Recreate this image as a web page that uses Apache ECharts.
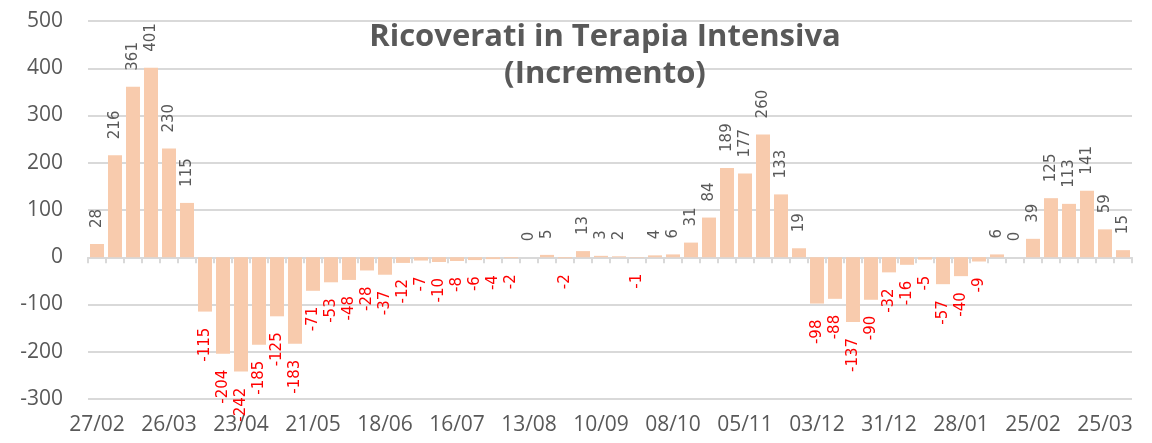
<!DOCTYPE html>
<html>
<head>
<meta charset="utf-8">
<script src="https://cdn.jsdelivr.net/npm/echarts@6/dist/echarts.min.js"></script>
<style>
  html, body { margin: 0; padding: 0; background: #fff; }
  #main { width: 1152px; height: 443px; }
</style>
</head>
<body>
<div id="main"></div>
<script>
// settimane (giovedì)
var weeks = ['27/02', '05/03', '12/03', '19/03', '26/03', '02/04', '09/04', '16/04', '23/04', '30/04',
  '07/05', '14/05', '21/05', '28/05', '04/06', '11/06', '18/06', '25/06', '02/07', '09/07',
  '16/07', '23/07', '30/07', '06/08', '13/08', '20/08', '27/08', '03/09', '10/09', '17/09',
  '24/09', '01/10', '08/10', '15/10', '22/10', '29/10', '05/11', '12/11', '19/11', '26/11',
  '03/12', '10/12', '17/12', '24/12', '31/12', '07/01', '14/01', '21/01', '28/01', '04/02',
  '11/02', '18/02', '25/02', '04/03', '11/03', '18/03', '25/03', '01/04'];

// incremento ricoverati in terapia intensiva
var incremento = [28, 216, 361, 401, 230, 115, -115, -204, -242, -185,
  -125, -183, -71, -53, -48, -28, -37, -12, -7, -10,
  -8, -6, -4, -2, 0, 5, -2, 13, 3, 2,
  -1, 4, 6, 31, 84, 189, 177, 260, 133, 19,
  -98, -88, -137, -90, -32, -16, -5, -57, -40, -9,
  6, 0, 39, 125, 113, 141, 59, 15];

var yMin = -300;
var yMax = 500;
var yStep = 100;

var chart = echarts.init(document.getElementById('main'));

var labelUp = {
  show: true,
  position: 'top',
  distance: 16,
  rotate: 90,
  align: 'left',
  verticalAlign: 'middle',
  color: '#595959',
  fontFamily: 'DejaVu Sans',
  fontSize: 15
};
var labelDown = {
  show: true,
  position: 'bottom',
  distance: 16,
  rotate: 90,
  align: 'right',
  verticalAlign: 'middle',
  color: '#ff0000',
  fontFamily: 'DejaVu Sans',
  fontSize: 15
};

var barData = incremento.map(function (v) {
  return { value: v, label: v < 0 ? labelDown : labelUp };
});

var option = {
  animation: false,
  title: {
    text: 'Ricoverati in Terapia Intensiva\n(Incremento)',
    left: 600,
    top: 14,
    textAlign: 'center',
    textStyle: {
      fontFamily: 'Open Sans',
      fontWeight: 'bold',
      fontSize: 31,
      lineHeight: 37,
      color: '#595959'
    }
  },
  grid: {
    left: 88,
    right: 20,
    top: 21,
    bottom: 44
  },
  xAxis: [
    {
      type: 'category',
      data: weeks,
      position: 'bottom',
      axisLine: { show: false, onZero: false },
      axisTick: { show: false },
      axisLabel: {
        interval: 3,
        margin: 16,
        color: '#595959',
        fontFamily: 'Open Sans',
        fontSize: 21
      }
    },
    {
      type: 'category',
      data: weeks,
      position: 'bottom',
      axisLine: { show: true, onZero: true, lineStyle: { color: '#d9d9d9', width: 2 } },
      axisTick: { show: true, interval: 0, length: 6, lineStyle: { color: '#d9d9d9', width: 2 } },
      axisLabel: { show: false }
    }
  ],
  yAxis: {
    type: 'value',
    min: yMin,
    max: yMax,
    interval: yStep,
    axisLine: { show: false },
    axisTick: { show: false },
    axisLabel: {
      margin: 25,
      color: '#595959',
      fontFamily: 'Open Sans',
      fontSize: 21
    },
    splitLine: { lineStyle: { color: '#d9d9d9', width: 2 } }
  },
  series: [
    {
      type: 'bar',
      xAxisIndex: 0,
      data: barData,
      barWidth: 14,
      itemStyle: { color: '#f8cbad' }
    }
  ]
};

chart.setOption(option);
</script>
</body>
</html>
